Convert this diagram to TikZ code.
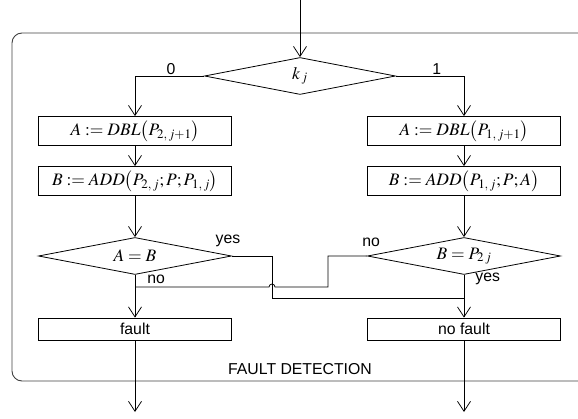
\documentclass[tikz,border=0pt]{standalone}
\usepackage{mathptmx}
\usepackage{fontspec}
\setmainfont{Liberation Sans}
\usetikzlibrary{arrows.meta,shapes.geometric}

\tikzset{
  txt/.style={font=\fontsize{15.8}{19}\selectfont},
  mtxt/.style={font=\fontsize{17.5}{20}\selectfont},
  stepbox/.style={draw, line width=0.8pt, minimum width=193pt, minimum height=29pt,
    inner sep=0pt, mtxt},
  decide/.style={draw, diamond, aspect=5, line width=0.8pt, minimum width=193pt,
    minimum height=37pt, inner sep=0pt, mtxt},
  endbox/.style={stepbox, minimum height=22pt, txt},
  flow/.style={line width=0.75pt, -{Straight Barb[length=10pt,width=13pt,line width=0.75pt]}},
  wire/.style={line width=0.75pt},
  lbl/.style={txt, inner sep=1pt},
  frame/.style={draw=black!75, line width=0.9pt, rounded corners=10pt}
}

\begin{document}
\begin{tikzpicture}[x=1pt,y=-1pt]
  \useasboundingbox (0,0) rectangle (578,419);

  % enclosing block
  \draw[frame] (580,33) -- (12,33) -- (12,381) -- (580,381);
  \node[txt] (title) at (300,369) {FAULT DETECTION};

  % decision on the key bit
  \coordinate (in) at (300,0);
  \node[decide, minimum width=191pt] (k) at (300,76) {$k_{\,j}$};

  % left column (bit 0)
  \node[stepbox] (a1) at (135,131) {$A \mathrel{:=} DBL\bigl(P_{2,\,j+1}\bigr)$};
  \node[stepbox] (b1) at (135,181) {$B \mathrel{:=} ADD\bigl(P_{2,\,j};P;P_{1,\,j}\bigr)$};
  \node[decide] (d1) at (135,256) {$A = B$};
  \node[endbox] (f1) at (135,329) {fault};

  % right column (bit 1)
  \node[stepbox] (a2) at (464,131) {$A \mathrel{:=} DBL\bigl(P_{1,\,j+1}\bigr)$};
  \node[stepbox] (b2) at (464,181) {$B \mathrel{:=} ADD\bigl(P_{1,\,j};P;A\bigr)$};
  \node[decide] (d2) at (464,256) {$B = P_{2\,j}$};
  \node[endbox] (f2) at (464,329) {no fault};

  % outputs
  \coordinate (out1) at (135,412);
  \coordinate (out2) at (464,412);

  % connectors
  \draw[flow] (in) -- (k.north);
  \draw[flow] (k.west) -| node[lbl, above, pos=0.24] {0} (a1.north);
  \draw[flow] (k.east) -| node[lbl, above, pos=0.3] {1} (a2.north);
  \draw[flow] (a1) -- (b1);
  \draw[flow] (b1) -- (d1);
  \draw[flow] (a2) -- (b2);
  \draw[flow] (b2) -- (d2);

  \draw[flow] (d1.south) -- node[lbl, pos=0.1, right=11pt] {no} (f1.north);
  \draw[flow] (d2.south) -- node[lbl, pos=0.1, right=10pt] {yes} (f2.north);

  % cross-over paths between the two columns
  \coordinate (jl) at (f1.north |- {(0,287)});
  \coordinate (jr) at (f2.north |- {(0,298)});
  \node[lbl, above=8pt, xshift=-4pt] at (d1.east) {yes};
  \node[lbl, above=8pt, xshift=4pt] at (d2.west) {no};
  \draw[wire] (d1.east) -- (272,256) -- (272,298) -- (jr);
  \draw[wire] (d2.west) -- (328,256) -- (328,287) -- (275,287)
     arc[start angle=0, end angle=-180, radius=3] -- (jl);

  \draw[flow] (f1.south) -- (out1);
  \draw[flow] (f2.south) -- (out2);
\end{tikzpicture}
\end{document}
